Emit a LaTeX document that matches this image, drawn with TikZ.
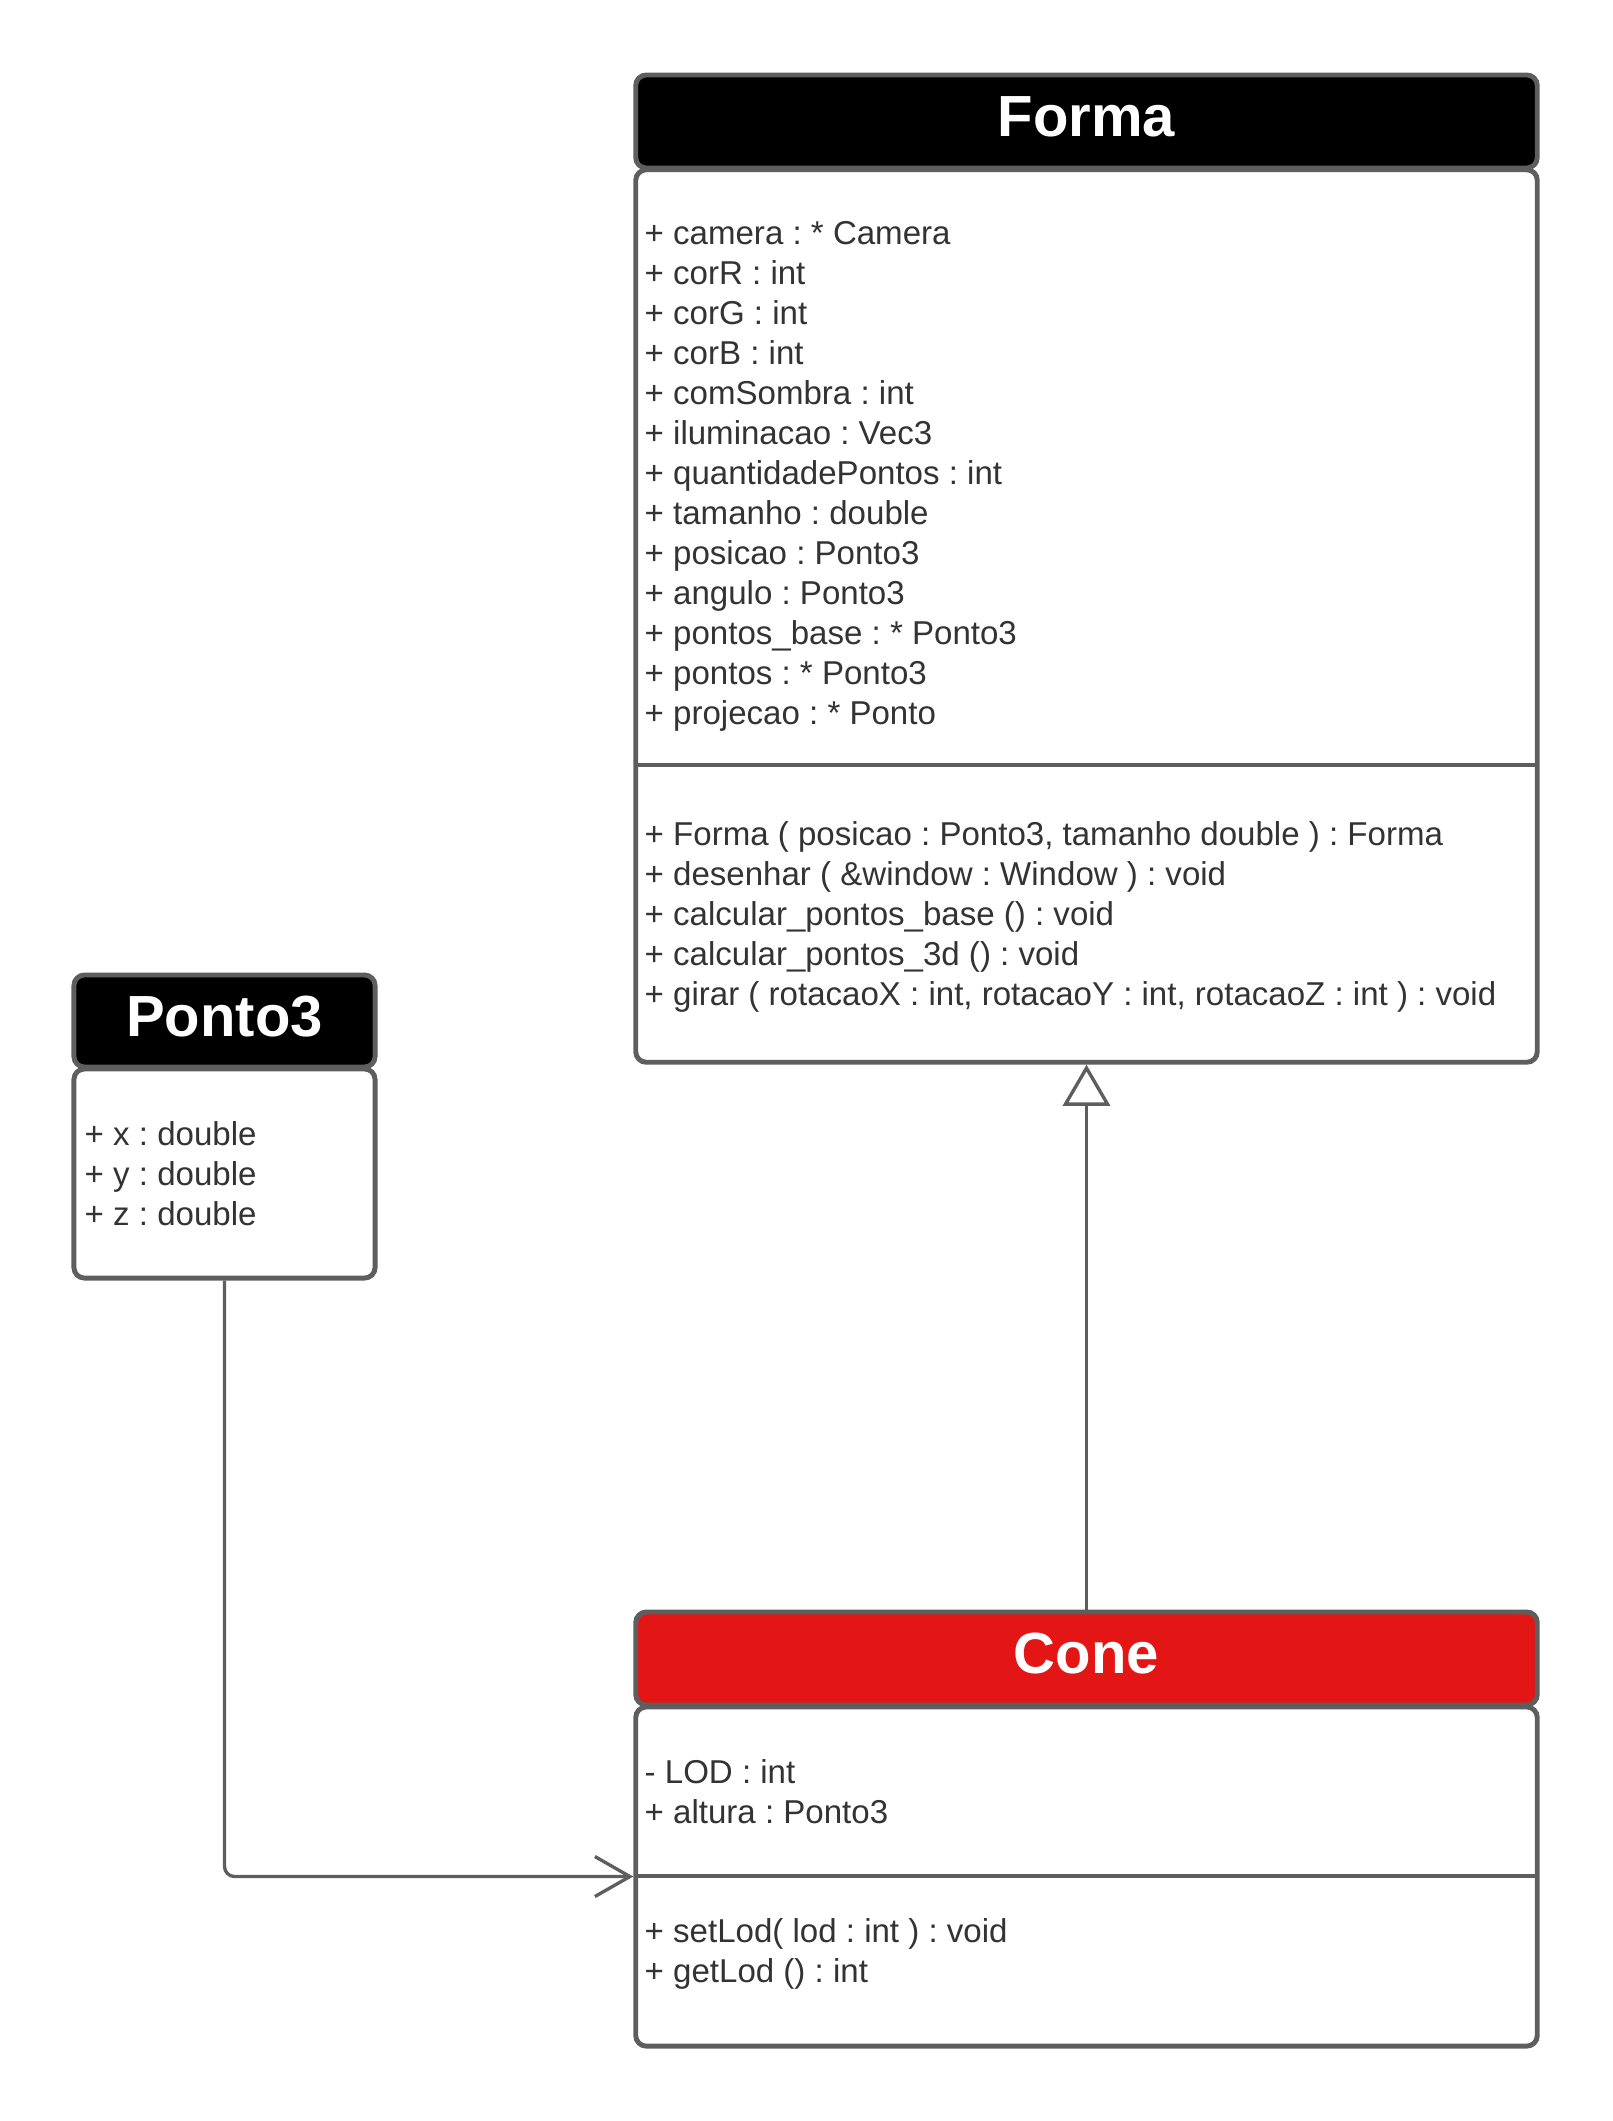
\documentclass[tikz,border=0pt]{standalone}
\usepackage{fontspec}
\setmainfont{Liberation Sans}
\usetikzlibrary{arrows.meta}

\definecolor{linegray}{HTML}{5E5E5E}
\definecolor{textgray}{HTML}{333333}
\definecolor{conered}{HTML}{E31515}
\newcommand{\memberfont}{\fontsize{9.4}{11.4}\selectfont\frenchspacing}
\newcommand{\headfont}{\fontsize{16.5}{19}\selectfont\bfseries}

\tikzset{
  classhead/.style={draw=linegray, line width=1.4pt, rounded corners=3pt, fill=black, text=white, font=\headfont, inner sep=0pt, text depth=0.1cm},
  classbody/.style={draw=linegray, line width=1.4pt, rounded corners=3pt, fill=white, inner sep=0pt},
  divider/.style={draw=linegray, line width=1.4pt},
  member/.style={anchor=base west, inner sep=0pt, text=textgray, font=\memberfont},
  link/.style={draw=linegray, line width=0.95pt},
}

\begin{document}
\begin{tikzpicture}[x=0.01cm, y=-0.01cm]
    \useasboundingbox (0,0) rectangle (1613,2121);
    % Forma
    \node[classhead, minimum width=9.01cm, minimum height=0.93cm] (formaHead) at (1086.5,121.5) {Forma};
    \node[classbody, minimum width=9.01cm, minimum height=8.92cm] (formaBody) at (1086.5,616) {};
    \draw[divider] (636,765) -- (1537,765);
    \foreach \m [count=\i] in {+ camera : * Camera, + corR : int, + corG : int, + corB : int,
        + comSombra : int, + iluminacao : Vec3, + quantidadePontos : int, + tamanho : double,
        + posicao : Ponto3, + angulo : Ponto3, + pontos\_base : * Ponto3, + pontos : * Ponto3,
        + projecao : * Ponto}
        \node[member] (formaAttr\i) at (644,204+40*\i) {\m};
    \foreach \m [count=\i] in {{+ Forma ( posicao : Ponto3, tamanho double ) : Forma},
        + desenhar ( \&window : Window ) : void, + calcular\_pontos\_base () : void,
        + calcular\_pontos\_3d () : void,
        {+ girar ( rotacaoX : int, rotacaoY : int, rotacaoZ : int ) : void}}
        \node[member] (formaOp\i) at (644,805+40*\i) {\m};
    % Ponto3
    \node[classhead, minimum width=3.01cm, minimum height=0.92cm] (ponto3Head) at (224.5,1021) {Ponto3};
    \node[classbody, minimum width=3.01cm, minimum height=2.09cm] (ponto3Body) at (224.5,1173.5) {};
    \foreach \m [count=\i] in {+ x : double, + y : double, + z : double}
        \node[member] (ponto3Attr\i) at (84,1105+40*\i) {\m};
    % Cone
    \node[classhead, fill=conered, minimum width=9.01cm, minimum height=0.93cm] (coneHead) at (1086.5,1658.5) {Cone};
    \node[classbody, minimum width=9.01cm, minimum height=3.39cm] (coneBody) at (1086.5,1876.5) {};
    \draw[divider] (636,1876) -- (1537,1876);
    \foreach \m [count=\i] in {- LOD : int, + altura : Ponto3}
        \node[member] (coneAttr\i) at (644,1743+40*\i) {\m};
    \foreach \m [count=\i] in {+ setLod( lod : int ) : void, + getLod () : int}
        \node[member] (coneOp\i) at (644,1902+40*\i) {\m};
    % Heranca
    \draw[link, -{Triangle[open, length=0.41cm, width=0.47cm]}] (coneHead.north) -- (formaBody.south);
    % Associacao
    \draw[link, rounded corners=0.1cm, -{Straight Barb[length=0.35cm, width=0.4cm]}] (ponto3Body.south) |- (coneBody.west);
\end{tikzpicture}
\end{document}
